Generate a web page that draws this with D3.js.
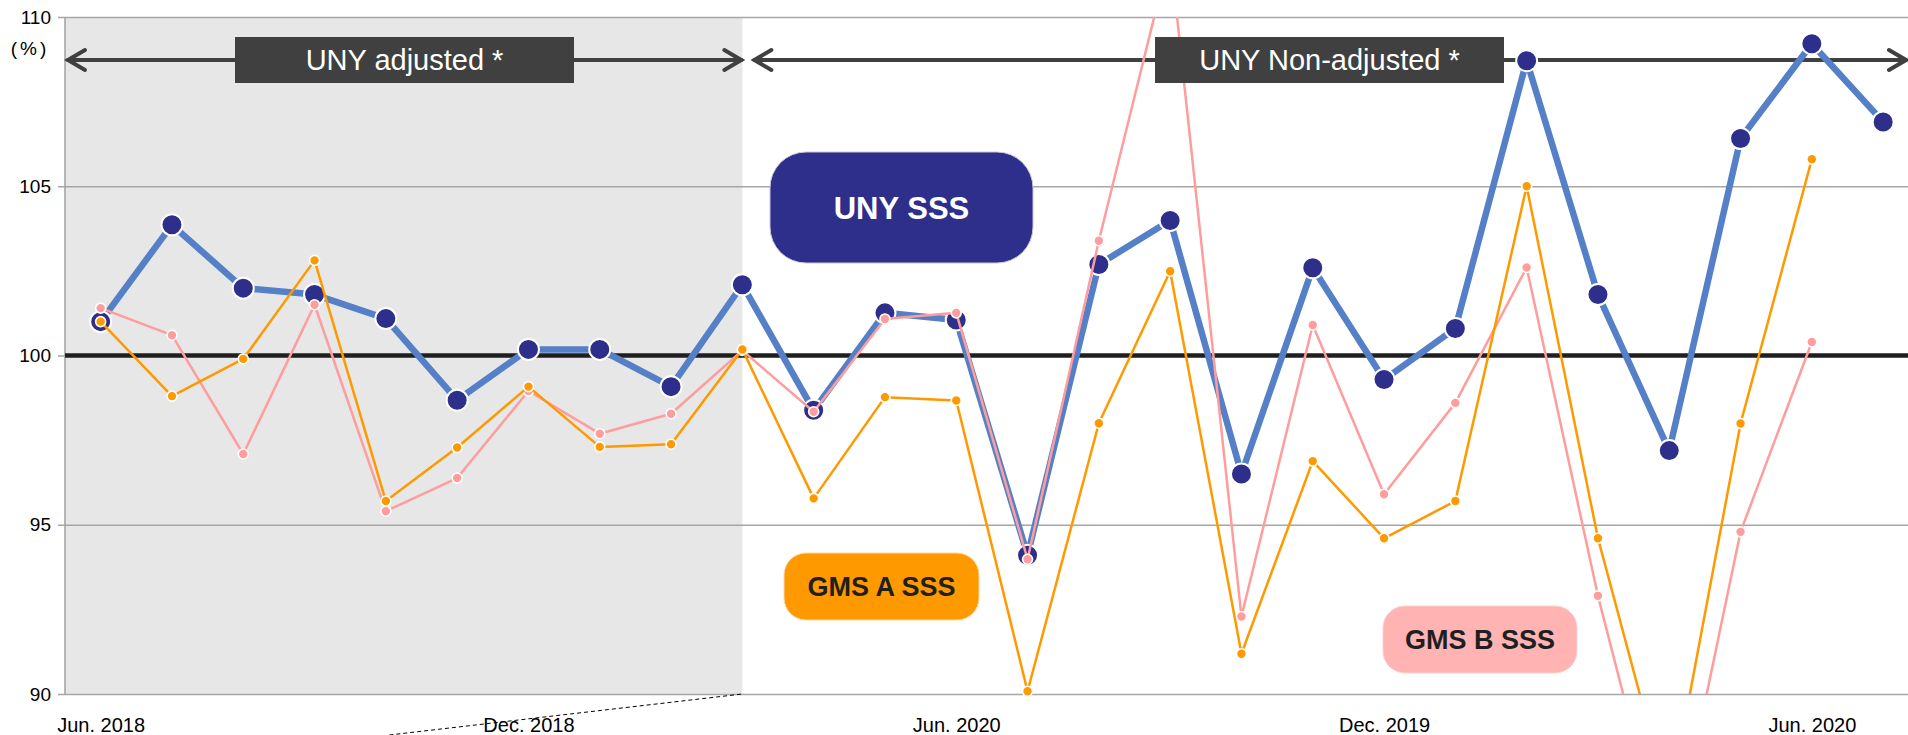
<!DOCTYPE html>
<html>
<head>
<meta charset="utf-8">
<script src="https://cdn.jsdelivr.net/npm/d3@7"></script>
<style>
  html, body { margin: 0; padding: 0; background: #fff; }
  svg { display: block; font-family: "Liberation Sans", Arial, sans-serif; }
</style>
</head>
<body>
<div id="chart"></div>
<script>
// monthly periods, Jun 2018 .. Jul 2020
const periods = [
  '2018-06', '2018-07', '2018-08', '2018-09', '2018-10', '2018-11', '2018-12',
  '2019-01', '2019-02', '2019-03', '2019-04', '2019-05', '2019-06', '2019-07',
  '2019-08', '2019-09', '2019-10', '2019-11', '2019-12', '2020-01', '2020-02',
  '2020-03', '2020-04', '2020-05', '2020-06', '2020-07'
];
// axis labels as printed on the original
const tickPeriods = ['2018-06', '2018-12', '2019-06', '2019-12', '2020-06'];
const tickLabels = ['Jun. 2018', 'Dec. 2018', 'Jun. 2020', 'Dec. 2019', 'Jun. 2020'];
const yTicks = [90, 95, 100, 105, 110];

const unySSS = [101.0, 103.86, 101.99, 101.8, 101.09, 98.68, 100.18, 100.18, 99.08, 102.09,
  98.38, 101.26, 101.05, 94.1, 102.69, 103.99, 96.5, 102.59, 99.29, 100.8,
  108.71, 101.8, 97.19, 106.41, 109.21, 106.9];
const gmsA = [101.0, 98.8, 99.9, 102.81, 95.7, 97.28, 99.08, 97.3, 97.38, 100.18,
  95.78, 98.77, 98.67, 90.08, 98.0, 102.49, 91.19, 96.88, 94.6, 95.7,
  105.0, 94.6, 86.75, 97.99, 105.8, null];
const gmsB = [101.4, 100.6, 97.09, 101.5, 95.4, 96.38, 98.95, 97.69, 98.28, 100.15,
  98.34, 101.08, 101.26, 93.98, 103.39, 111.9, 92.29, 100.9, 95.9, 98.6,
  102.6, 92.9, 84.7, 94.79, 100.4, null];

const adjustedEnd = '2019-03';   // last month of the adjusted span

const W = 1908, H = 735;
const plot = { left: 65, top: 17, right: 1908, bottom: 694 };

const svg = d3.select('#chart').append('svg')
  .attr('width', W).attr('height', H);

const x = d3.scalePoint().domain(periods)
  .range([plot.left, plot.left + 26 * 71.3]).padding(0.5);
const y = d3.scaleLinear().domain([90, 110]).range([plot.bottom, plot.top]);

svg.append('defs').append('clipPath').attr('id', 'plotclip')
  .append('rect')
  .attr('x', plot.left).attr('y', plot.top)
  .attr('width', plot.right - plot.left).attr('height', plot.bottom - plot.top);

// shaded "adjusted" span
svg.append('rect')
  .attr('x', plot.left).attr('y', plot.top)
  .attr('width', x(adjustedEnd) - plot.left)
  .attr('height', plot.bottom - plot.top)
  .attr('fill', '#e7e7e7');

// gridlines + y axis
const yAxis = svg.append('g')
  .attr('transform', `translate(${plot.left},0)`)
  .call(d3.axisLeft(y).tickValues(yTicks).tickSize(-(plot.right - plot.left)).tickPadding(14));
yAxis.select('.domain').remove();
yAxis.selectAll('.tick line')
  .attr('x1', -7)
  .attr('stroke', '#a6a6a6').attr('stroke-width', 1.6);
yAxis.selectAll('.tick text')
  .attr('fill', '#000').attr('font-size', 19);
svg.append('line')
  .attr('x1', plot.left).attr('x2', plot.left)
  .attr('y1', plot.top).attr('y2', plot.bottom)
  .attr('stroke', '#a6a6a6').attr('stroke-width', 1.6);
svg.append('text')
  .attr('x', 30).attr('y', 55)
  .attr('text-anchor', 'middle').attr('font-size', 19)
  .attr('letter-spacing', 3)
  .text('(%)');

// 100 baseline
svg.append('line')
  .attr('x1', plot.left).attr('x2', plot.right)
  .attr('y1', y(100)).attr('y2', y(100))
  .attr('stroke', '#1f1f1f').attr('stroke-width', 4.5);

// x labels
const xAxis = svg.append('g')
  .attr('transform', `translate(0,${plot.bottom})`)
  .call(d3.axisBottom(x).tickValues(tickPeriods).tickSize(0).tickPadding(24)
    .tickFormat((d, i) => tickLabels[i]));
xAxis.select('.domain').remove();
xAxis.selectAll('.tick text').attr('fill', '#000').attr('font-size', 20);

// dashed leader line at bottom
svg.append('line')
  .attr('x1', x(adjustedEnd) - 353).attr('y1', H)
  .attr('x2', x(adjustedEnd)).attr('y2', plot.bottom)
  .attr('stroke', '#000').attr('stroke-width', 1)
  .attr('stroke-dasharray', '4,3');

// span arrows
const arrowY = 60;
function arrow(x1, x2) {
  const g = svg.append('g').attr('stroke', '#404040').attr('stroke-width', 4)
    .attr('fill', 'none').attr('stroke-linecap', 'round');
  g.append('line').attr('x1', x1 + 2).attr('x2', x2 - 2).attr('y1', arrowY).attr('y2', arrowY);
  g.append('path').attr('d', `M${x1 + 19},${arrowY - 10} L${x1 + 2},${arrowY} L${x1 + 19},${arrowY + 10}`);
  g.append('path').attr('d', `M${x2 - 19},${arrowY - 10} L${x2 - 2},${arrowY} L${x2 - 19},${arrowY + 10}`);
}
arrow(plot.left + 1, x(adjustedEnd) + 1);
arrow(x(adjustedEnd) + 10, W);

// series
const series = [
  { values: unySSS, line: '#5580c8', width: 6.5, dot: '#2e2f8a', r: 10.5, sw: 2 },
  { values: gmsB, line: '#ff9d9d', width: 2.5, dot: '#ff9d9d', r: 5, sw: 1.6 },
  { values: gmsA, line: '#ff9900', width: 2.5, dot: '#ff9900', r: 5, sw: 1.6 }
];

series.forEach(s => {
  const pts = periods.map((p, i) => ({ p, v: s.values[i] })).filter(d => d.v != null);
  svg.append('path')
    .datum(pts)
    .attr('clip-path', 'url(#plotclip)')
    .attr('fill', 'none')
    .attr('stroke', s.line)
    .attr('stroke-width', s.width)
    .attr('stroke-linejoin', 'round')
    .attr('d', d3.line().x(d => x(d.p)).y(d => y(d.v)));
  svg.append('g')
    .selectAll('circle')
    .data(pts.filter(d => d.v >= 90 && d.v <= 110))
    .join('circle')
    .attr('cx', d => x(d.p))
    .attr('cy', d => y(d.v))
    .attr('r', s.r)
    .attr('fill', s.dot)
    .attr('stroke', '#fff')
    .attr('stroke-width', s.sw);
});

// span labels
function spanLabel(x0, x1, text) {
  svg.append('rect')
    .attr('x', x0).attr('y', 37).attr('width', x1 - x0).attr('height', 46)
    .attr('fill', '#404040');
  svg.append('text')
    .attr('x', (x0 + x1) / 2).attr('y', 70)
    .attr('text-anchor', 'middle').attr('fill', '#fff')
    .attr('font-size', 29)
    .text(text);
}
spanLabel(235, 574, 'UNY adjusted *');
spanLabel(1155, 1504, 'UNY Non-adjusted *');

// series legend boxes
function legendBox(x0, y0, w, h, rx, fill, stroke, color, size, text) {
  svg.append('rect')
    .attr('x', x0).attr('y', y0).attr('width', w).attr('height', h)
    .attr('rx', rx).attr('ry', rx)
    .attr('fill', fill).attr('stroke', stroke).attr('stroke-width', 1);
  svg.append('text')
    .attr('x', x0 + w / 2).attr('y', y0 + h / 2)
    .attr('dy', '0.36em')
    .attr('text-anchor', 'middle').attr('fill', color)
    .attr('font-size', size).attr('font-weight', 'bold')
    .text(text);
}
legendBox(770, 152, 263, 111, 36, '#2e2f8a', '#c8c8dc', '#fff', 31, 'UNY SSS');
legendBox(784, 553, 195, 67, 22, '#ff9900', '#ffd9a0', '#1f1f1f', 27, 'GMS A SSS');
legendBox(1383, 606, 194, 67, 22, '#ffb3b3', '#f3d3d3', '#1f1f1f', 27, 'GMS B SSS');
</script>
</body>
</html>
